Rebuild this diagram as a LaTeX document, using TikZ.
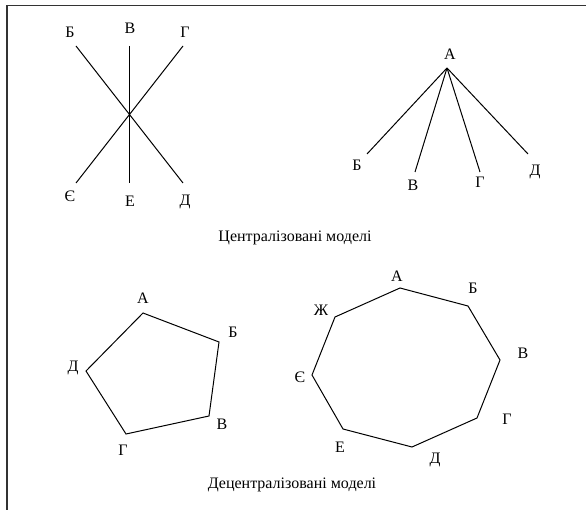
\documentclass[tikz,border=0pt]{standalone}
\usepackage{fontspec}
\setmainfont{Liberation Serif}
\begin{document}
\begin{tikzpicture}[x=1pt,y=-1pt,
  lbl/.style={inner sep=0pt,text height=10.6pt,text depth=0pt,font=\fontsize{16}{18}\selectfont},
  captiontext/.style={inner sep=0pt,font=\fontsize{16}{18}\selectfont},
  edge/.style={line width=1pt,black},
  frame/.style={line width=1.6pt,black!80}]
\useasboundingbox (0,0) rectangle (586,510);
\coordinate (fa) at (7,510);
\coordinate (fb) at (7,5.5);
\coordinate (fc) at (586,5.5);
\draw[frame] (fa) -- (fb) -- (fc);

% centralised: star
\coordinate (s1) at (76,46);
\coordinate (s2) at (129.5,46);
\coordinate (s3) at (183,46);
\coordinate (s4) at (183,183);
\coordinate (s5) at (129.5,183);
\coordinate (s6) at (76,183);
\draw[edge] (s1) -- (s4);
\draw[edge] (s2) -- (s5);
\draw[edge] (s3) -- (s6);
\node[lbl] (ls1) at (70,32) {Б};
\node[lbl] (ls2) at (130,28) {В};
\node[lbl] (ls3) at (185,32) {Г};
\node[lbl] (ls4) at (185,200) {Д};
\node[lbl] (ls5) at (130,201) {Е};
\node[lbl] (ls6) at (70,196) {Є};

% centralised: tree
\coordinate (t0) at (447,68);
\coordinate (t1) at (367,154);
\coordinate (t2) at (415,172);
\coordinate (t3) at (480,172);
\coordinate (t4) at (528,154);
\draw[edge] (t0) -- (t1);
\draw[edge] (t0) -- (t2);
\draw[edge] (t0) -- (t3);
\draw[edge] (t0) -- (t4);
\node[lbl] (lt0) at (450,54) {А};
\node[lbl] (lt1) at (357,165) {Б};
\node[lbl] (lt2) at (413,185) {В};
\node[lbl] (lt3) at (480,182) {Г};
\node[lbl] (lt4) at (535,170) {Д};

\node[captiontext] (c1) at (295,238) {Централізовані моделі};

% decentralised: pentagon
\coordinate (p1) at (143,313);
\coordinate (p2) at (219,342);
\coordinate (p3) at (209,416);
\coordinate (p4) at (126,434);
\coordinate (p5) at (86,371);
\draw[edge,line join=miter] (p1) -- (p2) -- (p3) -- (p4) -- (p5) -- cycle;
\node[lbl] (lp1) at (143,298) {А};
\node[lbl] (lp2) at (233,332) {Б};
\node[lbl] (lp3) at (222,424) {В};
\node[lbl] (lp4) at (123,450) {Г};
\node[lbl] (lp5) at (73,366) {Д};

% decentralised: octagon
\coordinate (o1) at (400,288);
\coordinate (o2) at (468,306);
\coordinate (o3) at (500,360);
\coordinate (o4) at (477,418);
\coordinate (o5) at (412,447);
\coordinate (o6) at (343,429);
\coordinate (o7) at (312,375);
\coordinate (o8) at (335,317);
\draw[edge,line join=miter] (o1) -- (o2) -- (o3) -- (o4) -- (o5) -- (o6) -- (o7) -- (o8) -- cycle;
\node[lbl] (lo1) at (397,276) {А};
\node[lbl] (lo2) at (473,288) {Б};
\node[lbl] (lo3) at (523,353) {В};
\node[lbl] (lo4) at (507,419) {Г};
\node[lbl] (lo5) at (435,458) {Д};
\node[lbl] (lo6) at (340,447) {Е};
\node[lbl] (lo7) at (300,377) {Є};
\node[lbl] (lo8) at (321,310) {Ж};

\node[captiontext] (c2) at (292,485) {Децентралізовані моделі};
\end{tikzpicture}
\end{document}
